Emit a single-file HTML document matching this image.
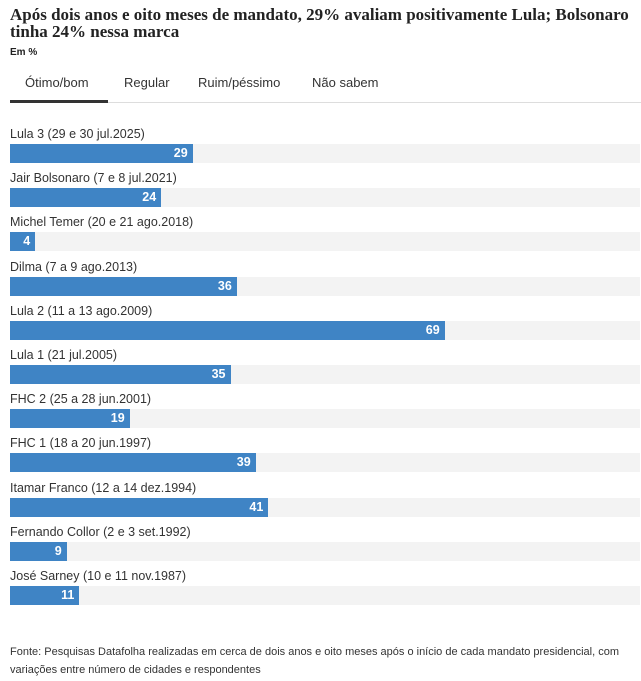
<!DOCTYPE html>
<html><head><meta charset="utf-8"><style>
*{margin:0;padding:0;box-sizing:border-box}
body{width:641px;height:681px;background:#fff;position:relative;overflow:hidden;font-family:"Liberation Sans","DejaVu Sans",sans-serif;color:#222}
.t{position:absolute;left:10px;top:6px;white-space:nowrap;font-family:"Liberation Serif",serif;font-weight:bold;font-size:17px;line-height:17px;color:#222}
.em{position:absolute;left:10px;top:47px;font-size:10px;font-weight:bold}
.tab{position:absolute;top:75px;font-size:13px;color:#333}
.ul{position:absolute;left:10px;top:100px;width:98px;height:3px;background:#333}
.hl{position:absolute;left:10px;top:102px;width:631px;height:1px;background:#ddd}
.lb{position:absolute;left:10px;font-size:12.5px;color:#333}
.bg{position:absolute;left:10px;width:630px;height:19px;background:#f3f3f3}
.b{position:absolute;left:10px;height:19px;background:#3f84c5;color:#fff;font-size:12.5px;font-weight:bold;text-align:right;padding-right:5px;line-height:19px}
.f{position:absolute;left:10px;top:643px;width:620px;font-size:11px;line-height:18px;color:#333}
</style></head><body>
<div class="t">Após dois anos e oito meses de mandato, 29% avaliam positivamente Lula; Bolsonaro<br>tinha 24% nessa marca</div>
<div class="em">Em %</div>
<div class="tab" style="left:25px">Ótimo/bom</div>
<div class="tab" style="left:124px">Regular</div>
<div class="tab" style="left:198px">Ruim/péssimo</div>
<div class="tab" style="left:312px">Não sabem</div>
<div class="hl"></div><div class="ul"></div>
<div id="c"></div>
<script>
var d=[["Lula 3 (29 e 30 jul.2025)",29],["Jair Bolsonaro (7 e 8 jul.2021)",24],["Michel Temer (20 e 21 ago.2018)",4],["Dilma (7 a 9 ago.2013)",36],["Lula 2 (11 a 13 ago.2009)",69],["Lula 1 (21 jul.2005)",35],["FHC 2 (25 a 28 jun.2001)",19],["FHC 1 (18 a 20 jun.1997)",39],["Itamar Franco (12 a 14 dez.1994)",41],["Fernando Collor (2 e 3 set.1992)",9],["José Sarney (10 e 11 nov.1987)",11]];
var h="";d.forEach(function(r,i){var y=144+i*44.2;
h+='<div class="lb" style="top:'+(y-17)+'px">'+r[0]+'</div><div class="bg" style="top:'+y+'px"></div><div class="b" style="top:'+y+'px;width:'+(r[1]*6.3)+'px">'+r[1]+'</div>';});
document.getElementById("c").innerHTML=h;
</script>
<div class="f">Fonte: Pesquisas Datafolha realizadas em cerca de dois anos e oito meses após o início de cada mandato presidencial, com variações entre número de cidades e respondentes</div>
</body></html>
